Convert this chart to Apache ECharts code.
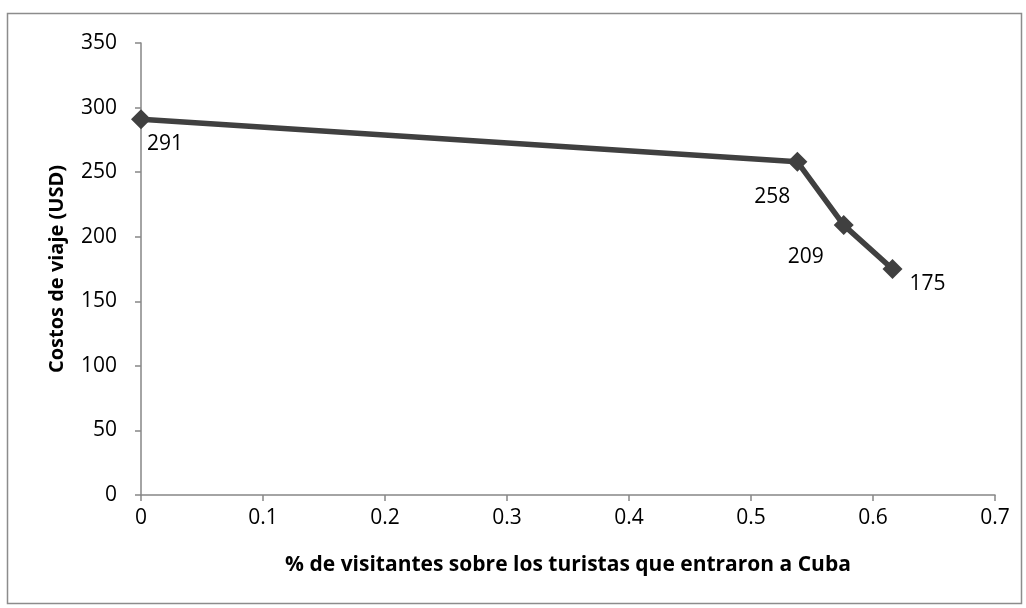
<!DOCTYPE html>
<html>
<head>
<meta charset="utf-8">
<script src="https://cdn.jsdelivr.net/npm/echarts@6/dist/echarts.min.js"></script>
<style>
html,body{margin:0;padding:0;background:#fff;}
#chart{width:1026px;height:608px;}
</style>
</head>
<body>
<div id="chart"></div>
<script>
// Data
var xValues = [0, 0.538, 0.576, 0.616];
var yValues = [291, 258, 209, 175];
var pointLabels = ['291', '258', '209', '175'];
var xTitle = '% de visitantes sobre los turistas que entraron a Cuba';
var yTitle = 'Costos de viaje (USD)';

var labelStyles = [
  {position: 'bottom', offset: [24, -1]},
  {position: 'bottom', offset: [-25, 10]},
  {position: 'bottom', offset: [-38, 6]},
  {position: 'right', offset: [2, 15]}
];

var seriesData = xValues.map(function (x, i) {
  return {
    value: [x, yValues[i]],
    label: {
      show: true,
      formatter: pointLabels[i],
      position: labelStyles[i].position,
      offset: labelStyles[i].offset,
      color: '#000',
      fontSize: 21,
      fontFamily: 'Open Sans'
    }
  };
});

var chart = echarts.init(document.getElementById('chart'));
chart.setOption({
  animation: false,
  backgroundColor: '#fff',
  graphic: [{
    type: 'rect',
    shape: {x: 7.5, y: 13.5, width: 1014, height: 590},
    style: {fill: 'none', stroke: '#8c8c8c', lineWidth: 1.5},
    silent: true
  }],
  grid: {left: 141, right: 31, top: 43, bottom: 113},
  xAxis: {
    type: 'value',
    min: 0, max: 0.7, interval: 0.1,
    name: xTitle,
    nameLocation: 'middle',
    nameGap: 60,
    nameTextStyle: {fontSize: 21, fontWeight: 'bold', color: '#000', fontFamily: 'Open Sans'},
    axisLine: {show: true, lineStyle: {color: '#868686', width: 1.5}},
    axisTick: {show: true, length: 6, lineStyle: {color: '#868686', width: 1.5}},
    axisLabel: {fontSize: 21, color: '#000', fontFamily: 'Open Sans', margin: 13,
      formatter: function (v) { return Math.round(v * 10) / 10 + ''; }},
    splitLine: {show: false}
  },
  yAxis: {
    type: 'value',
    min: 0, max: 350, interval: 50,
    name: yTitle,
    nameLocation: 'middle',
    nameGap: 74,
    nameTextStyle: {fontSize: 20, fontWeight: 'bold', color: '#000', fontFamily: 'Open Sans'},
    axisLine: {show: true, lineStyle: {color: '#868686', width: 1.5}},
    axisTick: {show: true, length: 6, inside: false, lineStyle: {color: '#868686', width: 1.5}},
    axisLabel: {fontSize: 21, color: '#000', fontFamily: 'Open Sans', margin: 24},
    splitLine: {show: false}
  },
  series: [{
    type: 'line',
    data: seriesData,
    symbol: 'diamond',
    symbolSize: 20,
    lineStyle: {color: '#404040', width: 5.5},
    itemStyle: {color: '#404040'}
  }]
});
</script>
</body>
</html>
